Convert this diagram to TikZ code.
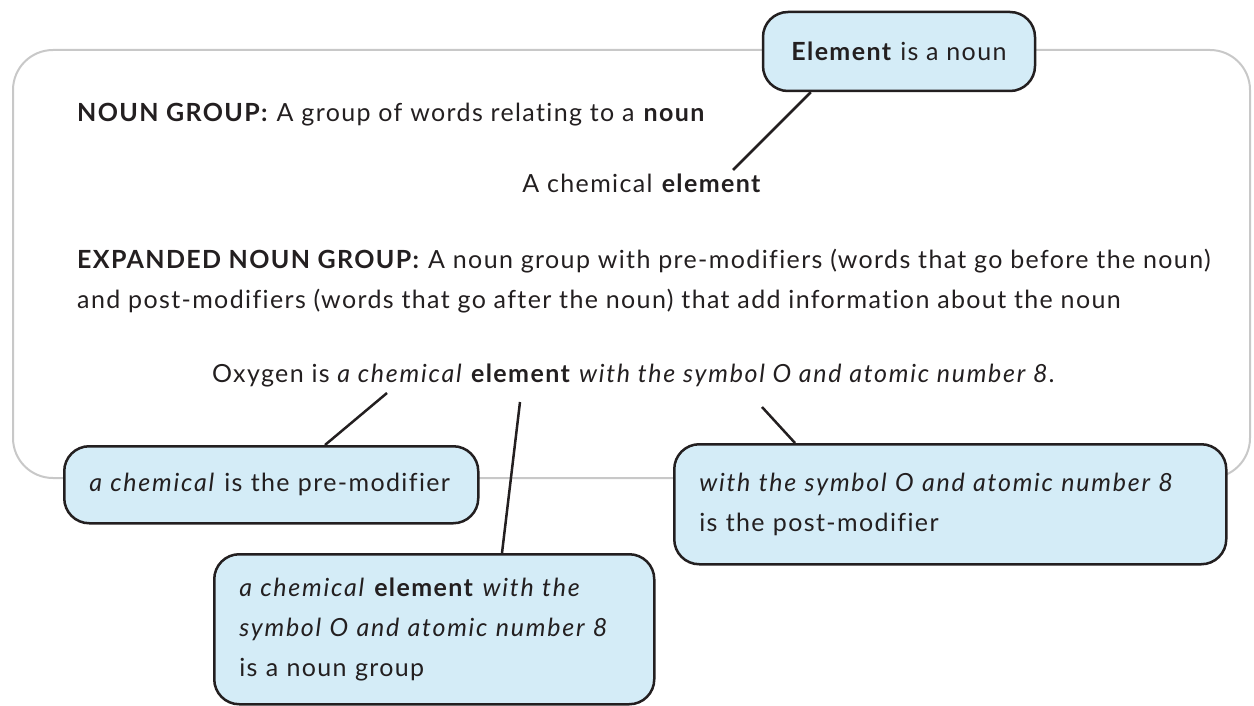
\documentclass[tikz,border=0pt]{standalone}
\usepackage{fontspec}
\setmainfont{Lato}[LetterSpace=5.5, Ligatures=NoCommon, ItalicFeatures={LetterSpace=7}, BoldItalicFeatures={LetterSpace=7}]
\definecolor{ink}{HTML}{231F20}
\definecolor{boxfill}{HTML}{D4ECF7}
\definecolor{framegray}{HTML}{C8C8C8}
\begin{document}
\begin{tikzpicture}[x=1pt,y=-1pt,
  every node/.style={text=ink, font=\fontsize{25}{40}\selectfont},
  framebox/.style={draw=framegray, line width=2pt, rounded corners=40pt, minimum width=1237pt, minimum height=428pt, inner sep=0pt},
  callout/.style={draw=ink, fill=boxfill, line width=2.5pt, rounded corners=25pt, inner xsep=25pt, inner ysep=0pt, align=left},
  plain/.style={inner sep=0pt},
  link/.style={draw=ink, line width=2.5pt}
]
\useasboundingbox (0,0) rectangle (1254,706);
% frame
\node[framebox] (frame) at (631.5,264) {};
% body text
\node[plain, anchor=base west] (ng) at (77,122) {\textbf{NOUN GROUP:} A group of words relating to a \textbf{noun}};
\node[plain, anchor=base east] (ce) at (762,193) {A chemical \textbf{element}};
\node[plain, anchor=base west] (eng1) at (77,269) {\textbf{EXPANDED NOUN GROUP:} A noun group with pre-modifiers (words that go before the noun)};
\node[plain, anchor=base west] (eng2) at (77,308) {and post-modifiers (words that go after the noun) that add information about the noun};
\node[plain, anchor=base west] (oxy) at (212,382) {Oxygen is \textit{a chemical} \textbf{element} \textit{with the symbol O and atomic number 8.}};
% connector free ends
\coordinate (t1) at (733,170);
\coordinate (t2) at (387,393);
\coordinate (t3) at (520,402);
\coordinate (t4) at (762,407);
% callouts
\node[callout, minimum width=272pt, minimum height=79pt, inner xsep=0pt, align=center] (elem) at (899,51.5) {\textbf{Element} is a noun};
\node[callout, anchor=north west, minimum width=414pt, minimum height=77pt, text width=364pt] (pre) at (63,445) {\textit{a chemical} is the pre-modifier};
\node[callout, anchor=north west, minimum width=440pt, minimum height=150pt, text width=390pt] (grp) at (213,553) {\textit{a chemical} \textbf{element} \textit{with the}\\ \textit{symbol O and atomic number 8}\\ is a noun group};
\node[callout, anchor=north west, minimum width=552pt, minimum height=120pt, text width=502pt] (post) at (673,443) {\textit{with the symbol O and atomic number 8}\\ is the post-modifier};
% connectors
\draw[link] (t1) -- ([xshift=49pt]elem.south west);
\draw[link] (t2) -- ([xshift=262pt]pre.north west);
\draw[link] (t3) -- ([xshift=289pt]grp.north west);
\draw[link] (t4) -- ([xshift=122pt]post.north west);
\end{tikzpicture}
\end{document}
